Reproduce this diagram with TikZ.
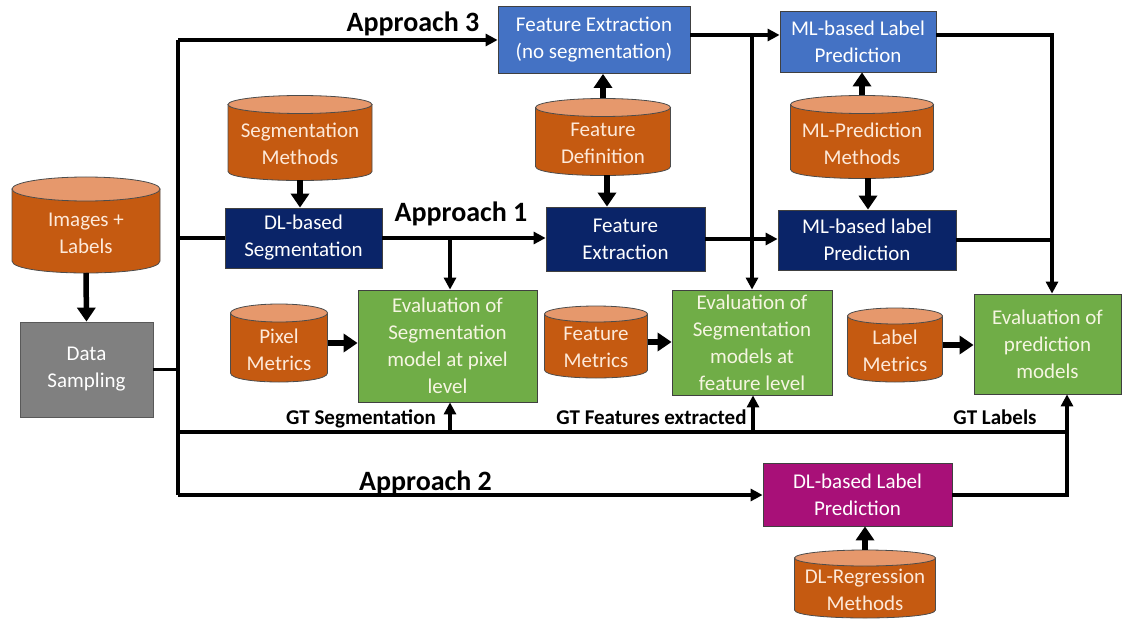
\documentclass[tikz,border=0pt]{standalone}
\usepackage{fontspec}
\setmainfont{Carlito}
\usetikzlibrary{arrows.meta,calc}
\definecolor{navy}{RGB}{10,36,104}
\definecolor{medblue}{RGB}{68,114,196}
\definecolor{grn}{RGB}{112,173,71}
\definecolor{gry}{RGB}{128,128,128}
\definecolor{magen}{RGB}{168,16,120}
\definecolor{cylbodyc}{RGB}{197,90,17}
\definecolor{cyltopc}{RGB}{230,152,108}
\definecolor{cream}{RGB}{253,233,217}
\definecolor{greentext}{RGB}{245,245,225}
\newcommand\dgfont{\fontsize{21}{27}\selectfont}
\newcommand\apfont{\fontsize{28}{30}\selectfont\bfseries}
\newcommand\gtfont{\fontsize{21}{24}\selectfont\bfseries}
\tikzset{
  conn/.style={line width=3.2pt, draw=black, line join=miter},
  arr/.style={conn, -{Triangle[length=12pt,width=12pt]}},
  fat/.style={line width=5.5pt, draw=black, -{Triangle[length=14pt,width=18pt]}},
  box/.style={draw=black!75, line width=0.8pt, align=center, inner sep=0pt, text=white, font=\dgfont},
  navybox/.style={box, fill=navy},
  bluebox/.style={box, fill=medblue},
  greenbox/.style={box, fill=grn, text=greentext},
  graybox/.style={box, fill=gry, draw=black!65},
  magbox/.style={box, fill=magen},
  cylbody/.style={fill=cylbodyc, draw=black!70, line width=0.8pt},
  cyltop/.style={fill=cyltopc, draw=black!70, line width=0.8pt},
  cylbox/.style={draw=none, inner sep=0pt, outer sep=0pt},
  cyltext/.style={align=center, text=cream, font=\dgfont, inner sep=0pt},
  aplabel/.style={font=\apfont, anchor=base, inner sep=0pt},
  gtlabel/.style={font=\gtfont, anchor=base, inner sep=0pt}
}
% name, cx, cy, w, h, e, text
\newcommand{\dbcyl}[7]{%
  \pgfmathsetmacro\cL{#2-#4/2}%
  \pgfmathsetmacro\cR{#2+#4/2}%
  \pgfmathsetmacro\cT{#3-#5/2+#6}%
  \pgfmathsetmacro\cB{#3+#5/2-#6}%
  \pgfmathsetmacro\cC{\cB+4/3*#6}%
  \pgfmathsetmacro\cRx{#4/2}%
  \path[cylbody] (\cL,\cT) -- (\cL,\cB) .. controls (\cL,\cC) and (\cR,\cC) .. (\cR,\cB) -- (\cR,\cT) -- cycle;
  \path[cyltop] (#2,\cT) ellipse [x radius=\cRx pt, y radius=#6 pt];
  \node[cylbox, minimum width=#4pt, minimum height=#5pt] (#1) at (#2,#3) {};
  \node[cyltext] (#1-t) at (#2,#3+0.7*#6) {#7};
}
\begin{document}
\begin{tikzpicture}[x=1pt,y=-1pt]
\useasboundingbox (0,0) rectangle (1126,620);

% cylinders
\dbcyl{img}{86}{225}{148}{96}{12}{Images +\\Labels}
\dbcyl{segm}{300}{138}{144}{85}{9}{Segmentation\\Methods}
\dbcyl{fdef}{603}{137}{135}{77}{9}{Feature\\Definition}
\dbcyl{mlm}{862}{137}{143}{83}{9}{ML-Prediction\\Methods}
\dbcyl{pix}{279}{343}{97}{78}{9}{Pixel\\Metrics}
\dbcyl{featm}{596}{342}{103}{72}{8}{Feature\\Metrics}
\dbcyl{labm}{895}{345}{95}{74}{8}{Label\\Metrics}
\dbcyl{dlr}{865}{584}{141}{68}{8}{DL-Regression\\Methods}

% boxes
\node[graybox, minimum width=133pt, minimum height=95pt] (ds) at (86.5,369.5) {Data\\Sampling};
\node[navybox, minimum width=157pt, minimum height=60pt] (dlseg) at (303.5,238) {DL-based\\Segmentation};
\node[bluebox, minimum width=192pt, minimum height=67pt] (fe3) at (594,40) {Feature Extraction\\(no segmentation)};
\node[navybox, minimum width=159pt, minimum height=64pt] (fe1) at (625.5,239) {Feature\\Extraction};
\node[bluebox, minimum width=156pt, minimum height=61pt] (ml3) at (858,41.5) {ML-based Label\\Prediction};
\node[navybox, minimum width=178pt, minimum height=60pt] (ml1) at (867,240) {ML-based label\\Prediction};
\node[greenbox, minimum width=179pt, minimum height=112pt] (evseg) at (447.5,346) {Evaluation of\\Segmentation\\model at pixel\\level};
\node[greenbox, minimum width=160pt, minimum height=105pt] (evfeat) at (752,342.5) {Evaluation of\\Segmentation\\models at\\feature level};
\node[greenbox, minimum width=147pt, minimum height=100pt] (evpred) at (1047.5,344) {Evaluation of\\prediction\\models};
\node[magbox, minimum width=189pt, minimum height=63pt] (dlp) at (857.5,494.5) {DL-based Label\\Prediction};

% labels
\node[aplabel] (ap3) at (413,32) {Approach 3};
\node[aplabel] (ap1) at (461,222) {Approach 1};
\node[aplabel] (ap2) at (425.5,490) {Approach 2};
\node[gtlabel] (gts) at (361,424) {GT Segmentation};
\node[gtlabel] (gtf) at (651.5,424) {GT Features extracted};
\node[gtlabel] (gtl) at (995,424) {GT Labels};

% coordinates
\coordinate (b3) at (178,40);
\coordinate (b2) at (178,495);
\coordinate (bseg) at (178,238);
\coordinate (j1) at (450,238);
\coordinate (r3) at (0,35);
\coordinate (j2) at (752,35);
\coordinate (c3) at (1052,35);
\coordinate (gL) at (178,432);
\coordinate (gR) at (1067,432);
\coordinate (g1) at (450,432);
\coordinate (g2) at (753,432);
\coordinate (a2) at (1067,495);

% connectors
\draw[conn] (b3) -- (b2);
\draw[conn] (ds.east) -- (ds.east -| b3);
\draw[arr] (b3) -- (fe3.west);
\draw[conn] (bseg) -- (dlseg.west);
\draw[arr] (dlseg.east) -- (dlseg.east -| fe1.west);
\draw[arr] (j1) -- (j1 |- evseg.north);
\draw[arr] (fe3.east |- r3) -- (ml3.west |- r3);
\draw[arr] (j2) -- (j2 |- evfeat.north);
\draw[arr] (fe1.east) -- (fe1.east -| ml1.west);
\draw[arr] (ml3.east |- r3) -- (c3) -- (c3 |- evpred.north);
\draw[conn] (ml1.east) -- (ml1.east -| c3);
\draw[conn] (gL) -- (gR);
\draw[arr] (g1) -- (g1 |- evseg.south);
\draw[arr] (g2) -- (g2 |- evfeat.south);
\draw[arr] (gR) -- (gR |- evpred.south);
\draw[arr] (b2) -- (b2 -| dlp.west);
\draw[conn] (dlp.east |- b2) -- (a2) -- (gR);

% fat arrows
\draw[fat] (img.south) -- (ds.north);
\draw[fat] (segm.south) -- (segm.south |- dlseg.north);
\draw[fat] (fdef.north) -- (fdef.north |- fe3.south);
\draw[fat] ([xshift=4pt]fdef.south) -- ([xshift=4pt]fdef.south |- fe1.north);
\draw[fat] (mlm.north) -- (mlm.north |- ml3.south);
\draw[fat] ([xshift=6pt]mlm.south) -- ([xshift=6pt]mlm.south |- ml1.north);
\draw[fat] (pix.east) -- (pix.east -| evseg.west);
\draw[fat] (featm.east) -- (featm.east -| evfeat.west);
\draw[fat] (labm.east) -- (labm.east -| evpred.west);
\draw[fat] (dlr.north) -- (dlr.north |- dlp.south);
\end{tikzpicture}
\end{document}
